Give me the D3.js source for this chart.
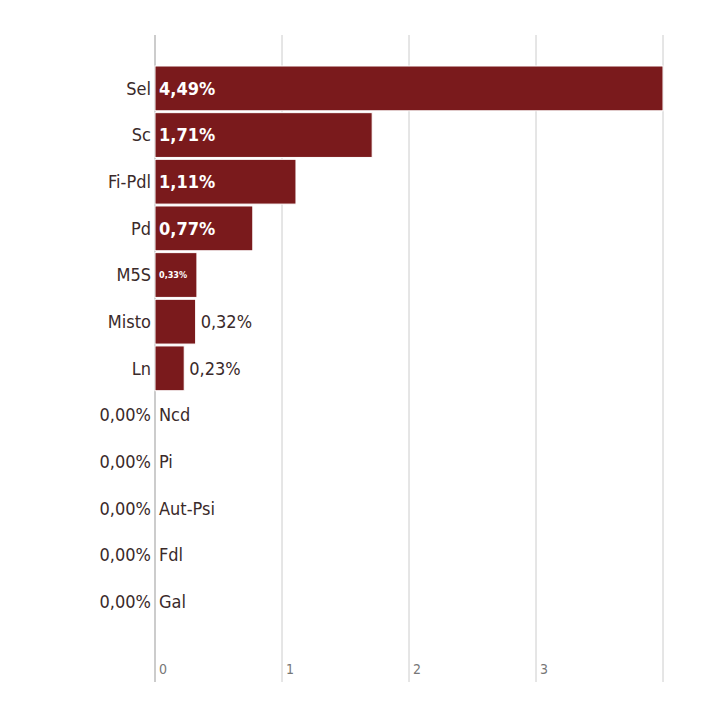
<!DOCTYPE html>
<html><head><meta charset="utf-8">
<script src="https://cdn.jsdelivr.net/npm/d3@7"></script>
<style>body{margin:0;background:#fff}text{font-family:"DejaVu Sans Condensed","DejaVu Sans",sans-serif}</style>
</head><body><div id="chart"></div>
<script>
const parties = ["Sel","Sc","Fi-Pdl","Pd","M5S","Misto","Ln","Ncd","Pi","Aut-Psi","Fdl","Gal"]
const values = [4.49,1.71,1.11,0.77,0.33,0.32,0.23,0,0,0,0,0]
const ticks = [0,1,2,3]

const W = 710, H = 704
const fmt = v => v.toFixed(2).replace(".", ",") + "%"
const svg = d3.select("#chart").append("svg").attr("width", W).attr("height", H)

const x = d3.scaleLinear().domain([0, 4]).range([155, 663]).clamp(true)
const y = d3.scaleBand().domain(parties).range([66, 624]).paddingInner(0.04)

// grid
svg.selectAll("line.grid").data(ticks.concat([4])).enter().append("line")
  .attr("x1", d => x(d)).attr("x2", d => x(d))
  .attr("y1", 35).attr("y2", 682)
  .attr("stroke", d => d === 0 ? "#999" : "#ccc").attr("stroke-width", 1)

svg.selectAll("text.tick").data(ticks).enter().append("text")
  .attr("x", d => x(d) + 4).attr("y", 674)
  .attr("font-size", 14).attr("fill", "#777").text(d => d)

svg.selectAll("rect.bar").data(parties).enter().append("rect")
  .attr("x", x(0)).attr("y", d => y(d))
  .attr("width", (d, i) => x(values[i]) - x(0)).attr("height", y.bandwidth())
  .attr("fill", "#7a1a1c").attr("stroke", "#fff").attr("stroke-width", 1)

parties.forEach((p, i) => {
  const v = values[i], cy = y(p) + y.bandwidth() / 2
  const lbl = svg.append("text").attr("y", cy).attr("dy", "0.35em").attr("font-size", 18).attr("fill", "#3a2a2a")
  const val = svg.append("text").attr("y", cy).attr("dy", "0.35em").attr("font-size", 18)
  if (v === 0) {
    lbl.attr("x", x(0) + 4).text(p)
    val.attr("x", x(0) - 4).attr("text-anchor", "end").attr("fill", "#3a2a2a").text(fmt(v))
  } else {
    lbl.attr("x", x(0) - 4).attr("text-anchor", "end").text(p)
    if (v >= 0.5) {
      val.attr("x", x(0) + 4).attr("fill", "#fff").attr("font-weight", "bold").text(fmt(v))
    } else if (v >= 0.33) {
      val.attr("x", x(0) + 4).attr("fill", "#fff").attr("font-weight", "bold").attr("font-size", 9).text(fmt(v))
    } else {
      val.attr("x", x(v) + 5).attr("fill", "#3a2a2a").text(fmt(v))
    }
  }
})
</script></body></html>
